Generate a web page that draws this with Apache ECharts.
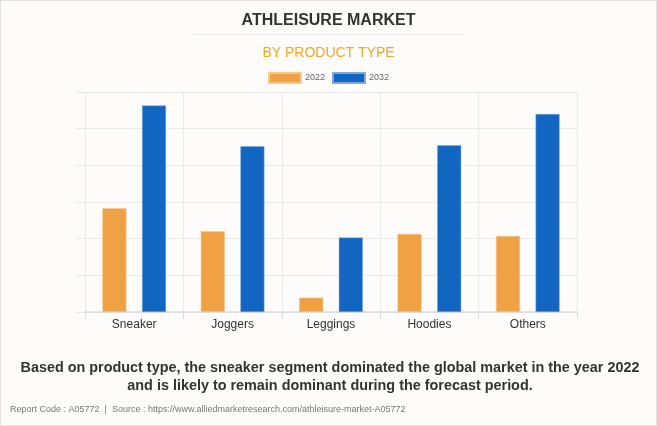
<!DOCTYPE html>
<html><head><meta charset="utf-8">
<script src="https://cdn.jsdelivr.net/npm/echarts@6/dist/echarts.min.js"></script>
<style>
html,body{margin:0;padding:0;background:#fff;}
#wrap{position:absolute;left:0;top:0;width:655px;height:424px;border:1px solid #e3e3e3;background:#fdfcfb;}
#c{width:655px;height:424px;}
</style></head><body>
<div id="wrap"><div id="c"></div></div>
<script>
const categories = ['Sneaker', 'Joggers', 'Leggings', 'Hoodies', 'Others'];
const values2022 = [2.83, 2.20, 0.39, 2.13, 2.07];
const values2032 = [5.63, 4.52, 2.03, 4.55, 5.40];
const seriesNames = ['2022', '2032'];

const chart = echarts.init(document.getElementById('c'), null, {renderer: 'canvas'});
chart.setOption({
  backgroundColor: '#fdfcfb',
  animation: false,
  title: [
    {text: 'ATHLEISURE MARKET', left: 'center', top: 7,
     textStyle: {fontFamily: 'Arial, Liberation Sans', fontWeight: 'bold', fontSize: 16, color: '#333'}},
    {text: 'BY PRODUCT TYPE', left: 'center', top: 40,
     textStyle: {fontFamily: 'Arial, Liberation Sans', fontWeight: 'normal', fontSize: 14, color: '#f5a623'}},
    {text: 'Report Code : A05772  |  Source : https://www.alliedmarketresearch.com/athleisure-market-A05772',
     left: 4, top: 399,
     textStyle: {fontFamily: 'Arial, Liberation Sans', fontWeight: 'normal', fontSize: 9, color: '#777'}}
  ],
  graphic: [
    {type: 'line', shape: {x1: 193, y1: 33.5, x2: 463, y2: 33.5}, style: {stroke: '#e6e6e6', lineWidth: 1}},
    {type: 'text', x: 329, y: 376.5, style: {
      text: 'Based on product type, the sneaker segment dominated the global market in the year 2022\nand is likely to remain dominant during the forecast period.',
      font: 'bold 14.4px Arial, "Liberation Sans"', fill: '#333', align: 'center', verticalAlign: 'middle', lineHeight: 18}}
  ],
  legend: {
    data: seriesNames, top: 66, left: 'center', itemWidth: 32, itemHeight: 10, itemGap: 7,
    textStyle: {fontFamily: 'Arial, Liberation Sans', fontSize: 9, color: '#666', padding: [0, 0, 0, -1]},
    icon: 'rect'
  },
  grid: {left: 84, right: 79, top: 91, bottom: 113, containLabel: false},
  xAxis: {
    type: 'category', data: categories,
    axisLine: {show: true, lineStyle: {color: '#ddd', width: 1.5}},
    axisTick: {show: true, length: 7, lineStyle: {color: '#ddd'}},
    splitLine: {show: true, lineStyle: {color: '#eaeaea'}},
    axisLabel: {fontFamily: 'Arial, Liberation Sans', fontSize: 12, color: '#333', margin: 7}
  },
  yAxis: {
    type: 'value', min: 0, max: 6, interval: 1,
    axisLine: {show: false},
    axisTick: {show: true, length: 9, lineStyle: {color: '#eaeaea'}},
    axisLabel: {show: false},
    splitLine: {show: true, lineStyle: {color: '#eaeaea'}}
  },
  series: [
    {name: seriesNames[0], type: 'bar', data: values2022, barWidth: 24, barGap: '65%',
     itemStyle: {color: '#f0a143', borderColor: '#f7c88c', borderWidth: 0.5}},
    {name: seriesNames[1], type: 'bar', data: values2032, barWidth: 24,
     itemStyle: {color: '#1266c1', borderColor: '#7fa9dc', borderWidth: 0.5}}
  ]
});
</script>
</body></html>
